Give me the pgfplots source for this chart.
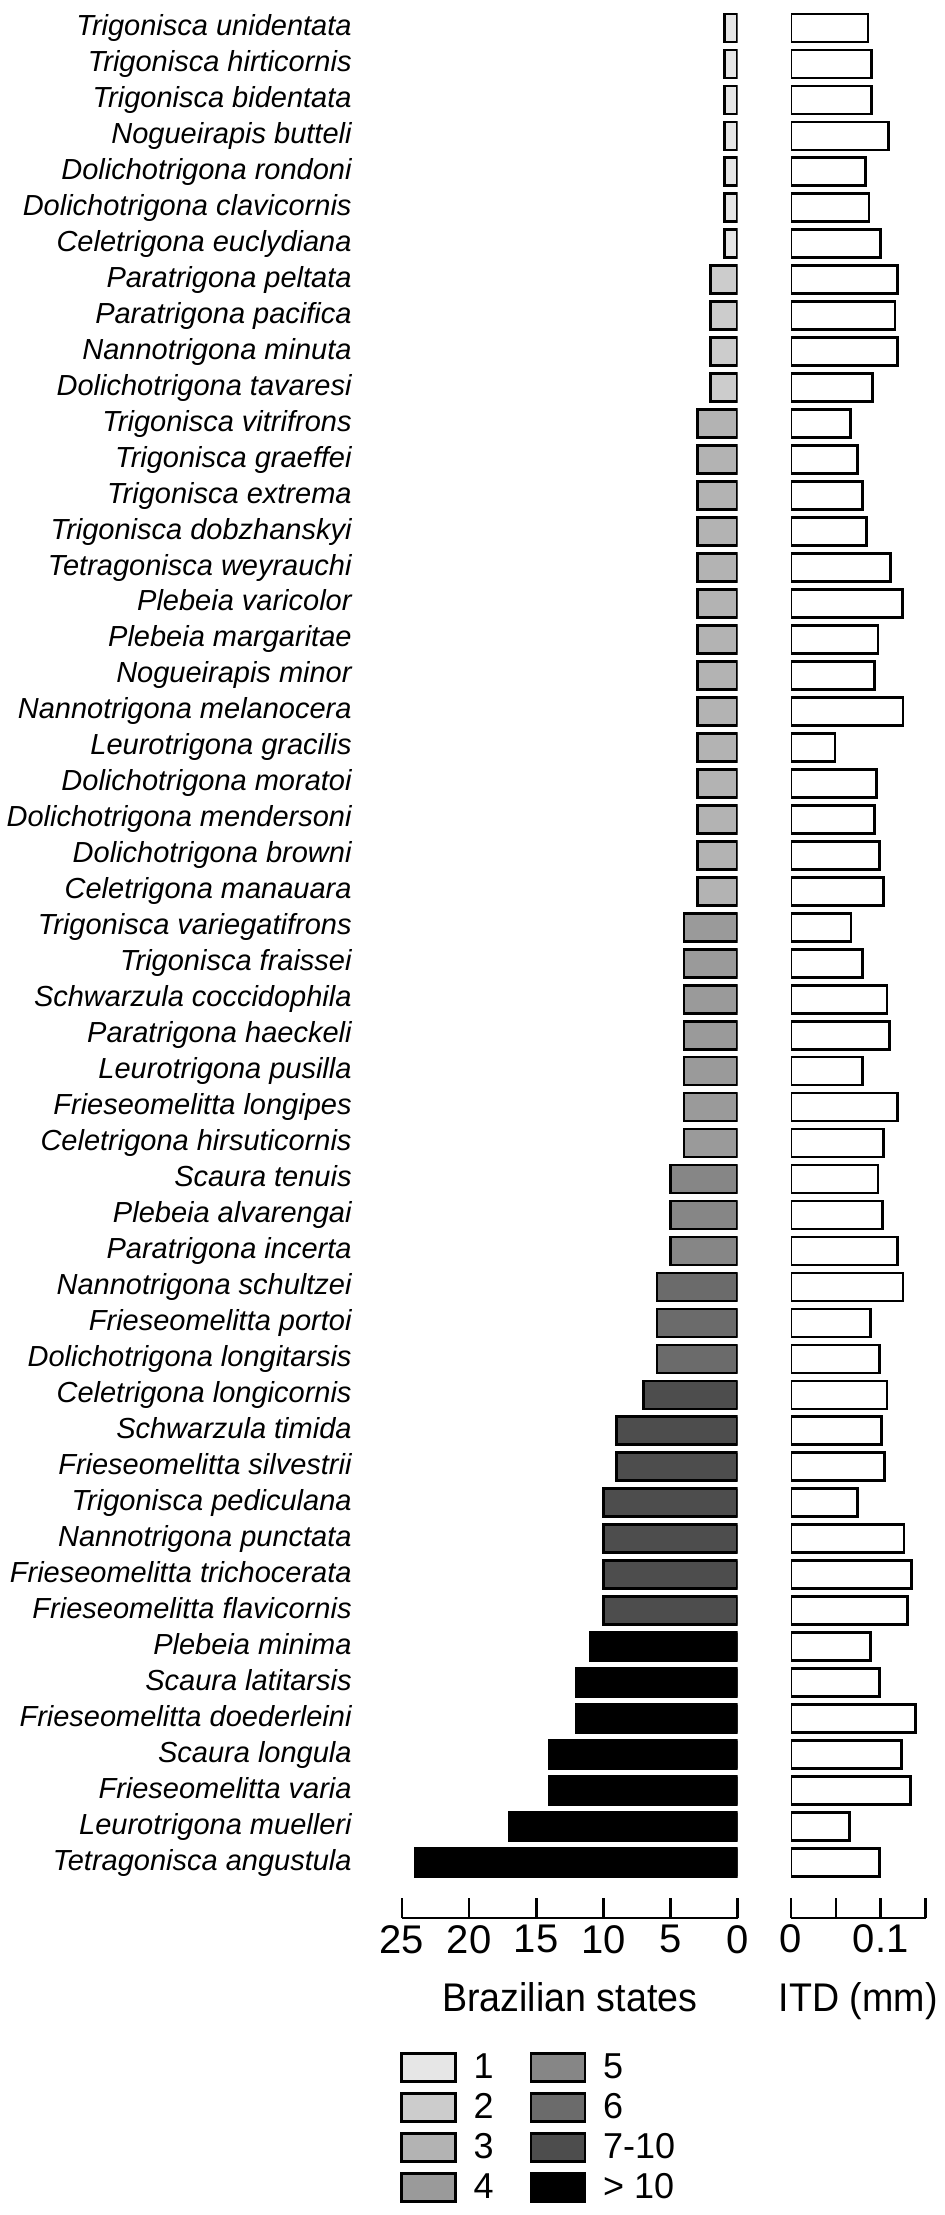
\documentclass[border=0pt]{standalone}
\usepackage{fontspec}
\setmainfont{Liberation Sans}
\newfontfamily\labfont[FakeStretch=0.94]{Liberation Sans}
\usepackage{pgfplots}
\pgfplotsset{compat=1.18}
\definecolor{c1}{HTML}{E6E6E6}
\definecolor{c2}{HTML}{CCCCCC}
\definecolor{c3}{HTML}{B3B3B3}
\definecolor{c4}{HTML}{9A9A9A}
\definecolor{c5}{HTML}{868686}
\definecolor{c6}{HTML}{6B6B6B}
\definecolor{c7}{HTML}{4D4D4D}
\definecolor{c8}{HTML}{000000}
\pgfplotsset{
  mybar/.style={xbar, bar shift=0pt, bar width=14pt, draw=black, line width=1.35pt,
    legend image code/.code={\draw[##1, line width=1.3pt] (0pt,-7pt) rectangle (27pt,7pt);}},
  common/.style={
    scale only axis, height=958.5pt,
    ymin=-0.543, ymax=52.75,
    enlargelimits=false,
    axis x line=bottom,
    axis line style={-},
    every outer x axis line/.append style={-, line width=1.3pt},
    tick align=inside,
    major tick length=10pt,
    xtick style={line width=1.3pt, black},
    /pgf/number format/assume math mode=true,
    xticklabel style={font=\fontsize{20pt}{20pt}\selectfont},
    xlabel style={font=\labfont\fontsize{20pt}{22pt}\selectfont, yshift=-7.5pt},
  }
}
\begin{document}
\begin{tikzpicture}
\path[use as bounding box] (-201pt,-148.5pt) rectangle (271.5pt,959pt);
\begin{axis}[common,
  at={(0pt,0pt)}, anchor=south west,
  width=167.8pt,
  xmin=0, xmax=25, x dir=reverse,
  axis y line=left,
  y axis line style={draw=none},
  ytick style={draw=none},
  xtick={0,5,10,15,20,25},
  ytick={1,...,52},
  yticklabel style={font=\fontsize{14.5pt}{16pt}\selectfont\itshape, anchor=east, inner sep=0pt,
    text height=10.5pt, text depth=3pt, xshift=-20pt},
  yticklabels={
    {Tetragonisca angustula\ },
    {Leurotrigona muelleri},
    {Frieseomelitta varia},
    {Scaura longula\ },
    {Frieseomelitta doederleini},
    {Scaura latitarsis},
    {Plebeia minima},
    {Frieseomelitta flavicornis},
    {Frieseomelitta trichocerata},
    {Nannotrigona punctata},
    {Trigonisca pediculana},
    {Frieseomelitta silvestrii},
    {Schwarzula timida},
    {Celetrigona longicornis},
    {Dolichotrigona longitarsis},
    {Frieseomelitta portoi},
    {Nannotrigona schultzei},
    {Paratrigona incerta},
    {Plebeia alvarengai},
    {Scaura tenuis},
    {Celetrigona hirsuticornis},
    {Frieseomelitta longipes},
    {Leurotrigona pusilla},
    {Paratrigona haeckeli},
    {Schwarzula coccidophila},
    {Trigonisca fraissei},
    {Trigonisca variegatifrons\ },
    {Celetrigona manauara},
    {Dolichotrigona browni\ },
    {Dolichotrigona mendersoni},
    {Dolichotrigona moratoi\ },
    {Leurotrigona gracilis},
    {Nannotrigona melanocera\ },
    {Nogueirapis minor},
    {Plebeia margaritae\ },
    {Plebeia varicolor},
    {Tetragonisca weyrauchi\ },
    {Trigonisca dobzhanskyi},
    {Trigonisca extrema},
    {Trigonisca graeffei},
    {Trigonisca vitrifrons\ },
    {Dolichotrigona tavaresi\ },
    {Nannotrigona minuta},
    {Paratrigona pacifica},
    {Paratrigona peltata},
    {Celetrigona euclydiana},
    {Dolichotrigona clavicornis},
    {Dolichotrigona rondoni},
    {Nogueirapis butteli},
    {Trigonisca bidentata\ },
    {Trigonisca hirticornis\ },
    {Trigonisca unidentata\ }},
  xlabel={Brazilian states},
  legend columns=2,
  legend cell align=left,
  legend style={draw=none, fill=none, inner sep=0pt, outer sep=0pt,
    at={(axis description cs:0,0)}, anchor=north west, xshift=-1pt, yshift=-67pt,
    font=\fontsize{18pt}{18pt}\selectfont,
    nodes={inner sep=0pt},
    row sep=4.75pt,
    /tikz/every odd column/.append style={column sep=8.5pt},
    /tikz/every even column/.append style={column sep=18pt}},
]
\addplot[mybar, fill=c1] coordinates {(1,52) (1,51) (1,50) (1,49) (1,48) (1,47) (1,46)};
\addlegendentry{1}
\addplot[mybar, fill=c5] coordinates {(5,20) (5,19) (5,18)};
\addlegendentry{5}
\addplot[mybar, fill=c2] coordinates {(2,45) (2,44) (2,43) (2,42)};
\addlegendentry{2}
\addplot[mybar, fill=c6] coordinates {(6,17) (6,16) (6,15)};
\addlegendentry{6}
\addplot[mybar, fill=c3] coordinates {(3,41) (3,40) (3,39) (3,38) (3,37) (3,36) (3,35) (3,34) (3,33) (3,32) (3,31) (3,30) (3,29) (3,28)};
\addlegendentry{3}
\addplot[mybar, fill=c7] coordinates {(7,14) (9,13) (9,12) (10,11) (10,10) (10,9) (10,8)};
\addlegendentry{7-10}
\addplot[mybar, fill=c4] coordinates {(4,27) (4,26) (4,25) (4,24) (4,23) (4,22) (4,21)};
\addlegendentry{4}
\addplot[mybar, fill=c8] coordinates {(11,7) (12,6) (12,5) (14,4) (14,3) (17,2) (24,1)};
\addlegendentry{> 10}
\end{axis}
\begin{axis}[common,
  at={(194.5pt,0pt)}, anchor=south west,
  width=67.25pt,
  xmin=0, xmax=0.15,
  axis y line=none,
  scaled x ticks=false,
  xtick={0,0.05,0.1,0.15},
  xticklabels={0,,0.1,},
  xlabel={ITD (mm)},
]
\addplot[mybar, fill=white] coordinates {
(0.086,52) (0.090,51) (0.090,50) (0.109,49) (0.083,48) (0.087,47) (0.100,46)
(0.119,45) (0.116,44) (0.119,43) (0.091,42) (0.066,41) (0.074,40) (0.080,39)
(0.084,38) (0.111,37) (0.124,36) (0.097,35) (0.093,34) (0.125,33) (0.049,32)
(0.095,31) (0.093,30) (0.099,29) (0.103,28) (0.067,27) (0.080,26) (0.107,25)
(0.110,24) (0.080,23) (0.119,22) (0.103,21) (0.097,20) (0.102,19) (0.119,18)
(0.125,17) (0.089,16) (0.099,15) (0.107,14) (0.101,13) (0.104,12) (0.074,11)
(0.126,10) (0.134,9) (0.130,8) (0.089,7) (0.099,6) (0.139,5) (0.123,4)
(0.133,3) (0.065,2) (0.099,1)};
\end{axis}
\end{tikzpicture}
\end{document}
